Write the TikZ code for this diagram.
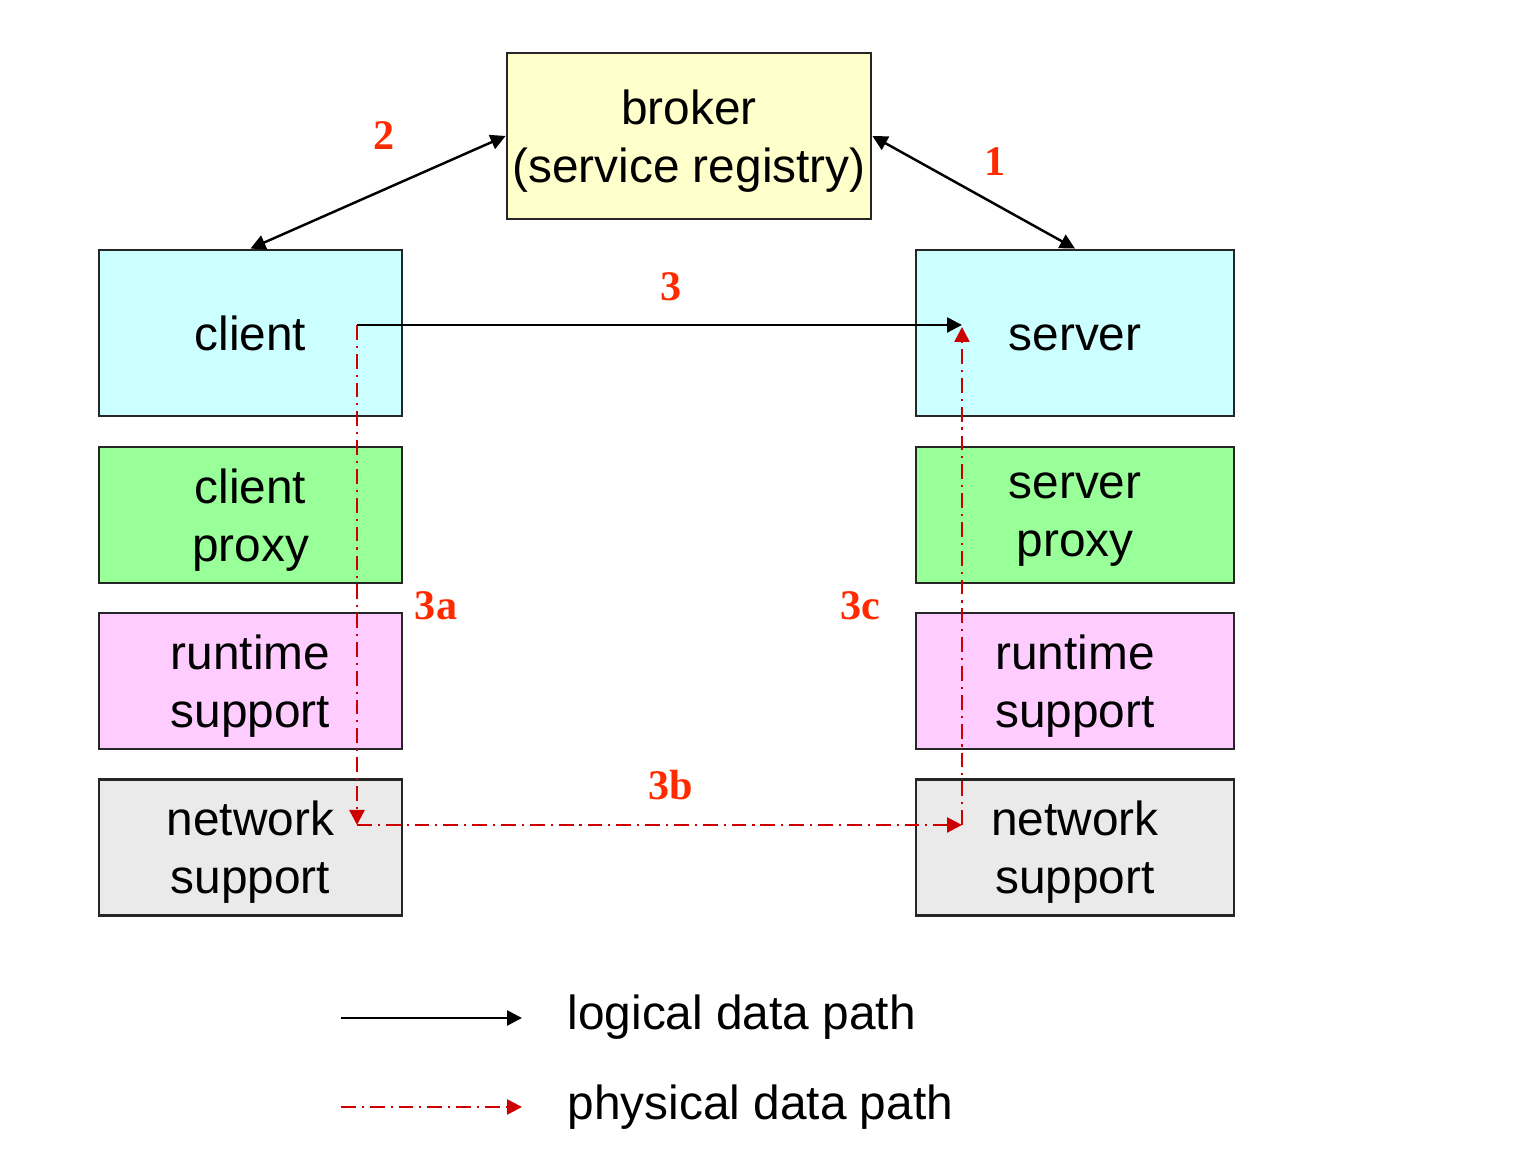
\documentclass[tikz,border=0pt]{standalone}
\usepackage{fontspec}
\setmainfont{Liberation Sans}
\newfontfamily\stepfont{Liberation Serif}
\usepackage{xcolor}
\usetikzlibrary{arrows.meta}
\definecolor{brokerfill}{HTML}{FFFFCC}
\definecolor{appfill}{HTML}{CCFFFF}
\definecolor{proxyfill}{HTML}{99FF99}
\definecolor{rtfill}{HTML}{FFCCFF}
\definecolor{netfill}{HTML}{EAEAEA}
\definecolor{pathred}{HTML}{CC0000}
\definecolor{steplabel}{HTML}{FF2A00}

\begin{document}
\begin{tikzpicture}[
		layer/.style={draw=black!85,line width=0.8pt,minimum height=1.36cm,align=center,inner sep=0pt,text depth=0pt,font=\fontsize{13.6}{16.5}\selectfont},
		endpoint/.style={layer,fill=appfill,minimum height=1.66cm,text height=0.35cm},
		stepnum/.style={text=steplabel,font=\stepfont\bfseries\fontsize{12}{14}\selectfont},
		tip/.style={Triangle[length=0.15cm,width=0.15cm]},
		logical/.style={line width=0.7pt,-{Triangle[length=0.15cm,width=0.15cm]}},
		physical/.style={pathred,line width=0.7pt,dash pattern=on 4.2pt off 1.7pt on 0.6pt off 1.7pt,-{Triangle[length=0.15cm,width=0.15cm]}}
	]
			\useasboundingbox (0,0) rectangle (15.24,11.70);
			\node[layer,fill=brokerfill,minimum width=3.64cm,minimum height=1.66cm] (broker) at (6.89,10.34) {broker\\(service registry)};
			\node[endpoint,minimum width=3.03cm] (client) at (2.505,8.37) {client};
			\node[endpoint,minimum width=3.18cm] (server) at (10.75,8.37) {server};
			\node[layer,fill=proxyfill,minimum width=3.03cm] (cproxy) at (2.505,6.55) {client\\proxy};
			\node[layer,fill=proxyfill,minimum width=3.18cm] (sproxy) at (10.75,6.55) {server\\proxy};
			\node[layer,fill=rtfill,minimum width=3.03cm] (crt) at (2.505,4.89) {runtime\\support};
			\node[layer,fill=rtfill,minimum width=3.18cm] (srt) at (10.75,4.89) {runtime\\support};
			\node[layer,fill=netfill,minimum width=3.03cm] (cnet) at (2.505,3.225) {network\\support};
			\node[layer,fill=netfill,minimum width=3.18cm] (snet) at (10.75,3.225) {network\\support};
			% registry lookups
			\draw[line width=0.7pt,{Triangle[length=0.15cm,width=0.15cm]}-{Triangle[length=0.15cm,width=0.15cm]}] (client.north) -- (broker.west);
			\draw[line width=0.7pt,{Triangle[length=0.15cm,width=0.15cm]}-{Triangle[length=0.15cm,width=0.15cm]}] (broker.east) -- (server.north);
			\node[stepnum] (s2) at (3.84,10.34) {2};
			\node[stepnum] (s1) at (9.95,10.08) {1};
			% data paths
			\coordinate (lstart) at (3.57,8.45);
			\coordinate (lend) at (9.62,8.45);
			\coordinate (pdown) at (3.57,3.45);
			\coordinate (pacross) at (9.62,3.45);
			\coordinate (pup) at (9.62,8.43);
			\draw[physical] (lstart) -- (pdown);
			\draw[physical] (pdown) -- (pacross);
			\draw[physical] (pacross) -- (pup);
			\draw[logical] (lstart) -- (lend);
			\node[stepnum] (s3) at (6.71,8.83) {3};
			\node[stepnum] (s3a) at (4.36,5.64) {3a};
			\node[stepnum] (s3b) at (6.71,3.85) {3b};
			\node[stepnum] (s3c) at (8.60,5.64) {3c};
			% legend
			\coordinate (la) at (3.41,1.52);
			\coordinate (lb) at (5.22,1.52);
			\coordinate (pa) at (3.41,0.63);
			\coordinate (pb) at (5.22,0.63);
			\draw[logical] (la) -- (lb);
			\draw[physical] (pa) -- (pb);
			\node[anchor=base west,inner sep=0pt,font=\fontsize{13.6}{16.5}\selectfont] (ltext) at (5.67,1.40) {logical data path};
			\node[anchor=base west,inner sep=0pt,font=\fontsize{13.6}{16.5}\selectfont] (ptext) at (5.67,0.50) {physical data path};
		\end{tikzpicture}
\end{document}
